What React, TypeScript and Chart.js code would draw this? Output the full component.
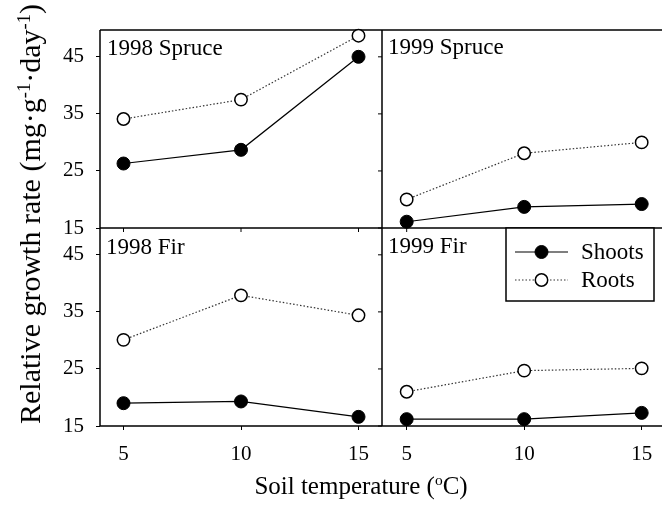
import React, { useEffect, useRef } from "react";
import { Chart, registerables } from "chart.js";

Chart.register(...registerables);

// ---- Data ----
const temperatures = [5, 10, 15];
const spruce1998Shoots = [26.3, 28.7, 45.0];
const spruce1998Roots = [34.1, 37.5, 48.7];
const spruce1999Shoots = [16.1, 18.7, 19.2];
const spruce1999Roots = [20.0, 28.1, 30.0];
const fir1998Shoots = [19.0, 19.3, 16.6];
const fir1998Roots = [30.1, 37.9, 34.4];
const fir1999Shoots = [16.2, 16.2, 17.3];
const fir1999Roots = [21.0, 24.7, 25.1];
const yTicks = [15, 25, 35, 45];
const xTicks = [5, 10, 15];
const panelTitles = ["1998 Spruce", "1999 Spruce", "1998 Fir", "1999 Fir"];
const seriesNames = ["Shoots", "Roots"];

const FONT = '"Liberation Serif", "Times New Roman", serif';

const panels = [
  { x: "xL", y: "yTop", shoots: spruce1998Shoots, roots: spruce1998Roots },
  { x: "xR", y: "yTop", shoots: spruce1999Shoots, roots: spruce1999Roots },
  { x: "xL", y: "yBot", shoots: fir1998Shoots, roots: fir1998Roots },
  { x: "xR", y: "yBot", shoots: fir1999Shoots, roots: fir1999Roots },
];

const shootStyle = {
  borderColor: "#000",
  borderWidth: 1.2,
  pointRadius: 6.5,
  pointBackgroundColor: "#000",
  pointBorderColor: "#000",
  pointBorderWidth: 1,
};
const rootStyle = {
  borderColor: "#333",
  borderWidth: 1.2,
  borderDash: [1.5, 2],
  pointRadius: 6.2,
  pointBackgroundColor: "#fff",
  pointBorderColor: "#000",
  pointBorderWidth: 1.5,
};

function buildDatasets() {
  const ds: any[] = [];
  panels.forEach((p, i) => {
    ds.push({
      label: seriesNames[0] + " " + panelTitles[i],
      data: temperatures.map((t, k) => ({ x: t, y: p.shoots[k] })),
      xAxisID: p.x,
      yAxisID: p.y,
      clip: false,
      ...shootStyle,
    });
    ds.push({
      label: seriesNames[1] + " " + panelTitles[i],
      data: temperatures.map((t, k) => ({ x: t, y: p.roots[k] })),
      xAxisID: p.x,
      yAxisID: p.y,
      clip: false,
      ...rootStyle,
    });
  });
  return ds;
}

const gridOpts = {
  display: true,
  drawOnChartArea: false,
  drawTicks: true,
  tickLength: 4,
  color: "#000",
  lineWidth: 1,
};

function yScale() {
  return {
    type: "linear",
    position: "left",
    stack: "rows",
    stackWeight: 1,
    min: 15,
    max: 49.7,
    afterBuildTicks: (s: any) => {
      s.ticks = yTicks.map((v) => ({ value: v }));
    },
    afterFit: (s: any) => {
      s.width = 100;
    },
    grid: gridOpts,
    border: { display: false },
    ticks: { color: "#000", font: { family: FONT, size: 21 }, padding: 12 },
  };
}

function xScale(min: number, max: number) {
  return {
    type: "linear",
    position: "bottom",
    stack: "cols",
    stackWeight: 1,
    min,
    max,
    afterBuildTicks: (s: any) => {
      s.ticks = xTicks.map((v) => ({ value: v }));
    },
    afterFit: (s: any) => {
      s.height = 79;
    },
    grid: gridOpts,
    border: { display: false },
    ticks: { color: "#000", font: { family: FONT, size: 21 }, padding: 12, maxRotation: 0 },
  };
}

const framePlugin = {
  id: "frame",
  beforeDatasetsDraw(chart: any) {
    const { ctx } = chart;
    const xL = chart.scales.xL;
    const xR = chart.scales.xR;
    const yT = chart.scales.yTop;
    const yB = chart.scales.yBot;
    const left = xL.left;
    const mid = xR.left;
    const right = xR.right;
    const top = yT.top;
    const midY = yB.top;
    const bottom = yB.bottom;
    ctx.save();
    ctx.strokeStyle = "#000";
    ctx.lineWidth = 1.5;
    ctx.beginPath();
    ctx.moveTo(left, top);
    ctx.lineTo(right, top);
    ctx.moveTo(left, midY);
    ctx.lineTo(right, midY);
    ctx.moveTo(left, bottom);
    ctx.lineTo(right, bottom);
    ctx.moveTo(left, top);
    ctx.lineTo(left, bottom);
    ctx.moveTo(mid, top);
    ctx.lineTo(mid, bottom);
    ctx.stroke();

    ctx.lineWidth = 1;
    ctx.beginPath();
    xTicks.forEach((v) => {
      const a = xL.getPixelForValue(v);
      const b = xR.getPixelForValue(v);
      ctx.moveTo(a, midY);
      ctx.lineTo(a, midY + 4);
      ctx.moveTo(b, midY);
      ctx.lineTo(b, midY + 4);
    });
    yTicks.forEach((v) => {
      const a = yT.getPixelForValue(v);
      const b = yB.getPixelForValue(v);
      ctx.moveTo(mid, a);
      ctx.lineTo(mid - 4, a);
      ctx.moveTo(mid, b);
      ctx.lineTo(mid - 4, b);
    });
    ctx.stroke();

    ctx.fillStyle = "#000";
    ctx.font = "23px " + FONT;
    ctx.textBaseline = "alphabetic";
    ctx.textAlign = "left";
    ctx.fillText(panelTitles[0], left + 7, top + 25);
    ctx.fillText(panelTitles[1], mid + 6, top + 24);
    ctx.fillText(panelTitles[2], left + 6, midY + 26);
    ctx.fillText(panelTitles[3], mid + 6, midY + 25);
    ctx.restore();
  },
  afterDatasetsDraw(chart: any) {
    const { ctx } = chart;
    const xR = chart.scales.xR;
    const yB = chart.scales.yBot;
    const bx = xR.left + 124;
    const by = yB.top;
    const bw = 148;
    const bh = 73;
    ctx.save();
    ctx.fillStyle = "#fff";
    ctx.fillRect(bx, by, bw, bh);
    ctx.strokeStyle = "#000";
    ctx.lineWidth = 1.5;
    ctx.strokeRect(bx, by, bw, bh);

    const rows = [
      { name: seriesNames[0], st: shootStyle, y: by + 24 },
      { name: seriesNames[1], st: rootStyle, y: by + 52 },
    ];
    rows.forEach((r: any) => {
      ctx.save();
      ctx.strokeStyle = r.st.borderColor;
      ctx.lineWidth = r.st.borderWidth;
      ctx.setLineDash(r.st.borderDash || []);
      ctx.beginPath();
      ctx.moveTo(bx + 9, r.y);
      ctx.lineTo(bx + 62, r.y);
      ctx.stroke();
      ctx.restore();
      ctx.beginPath();
      ctx.arc(bx + 35.5, r.y, r.st.pointRadius, 0, Math.PI * 2);
      ctx.fillStyle = r.st.pointBackgroundColor;
      ctx.fill();
      ctx.lineWidth = r.st.pointBorderWidth;
      ctx.strokeStyle = r.st.pointBorderColor;
      ctx.stroke();
      ctx.fillStyle = "#000";
      ctx.font = "23px " + FONT;
      ctx.textBaseline = "middle";
      ctx.textAlign = "left";
      ctx.fillText(r.name, bx + 75, r.y + 1);
    });
    ctx.restore();
  },
  afterDraw(chart: any) {
    // keep the right-hand edge of the plot open, as in the original figure
    const { ctx } = chart;
    const yT = chart.scales.yTop;
    const yB = chart.scales.yBot;
    ctx.save();
    ctx.fillStyle = "#fff";
    ctx.fillRect(656, yT.top + 1, 20, yT.bottom - yT.top - 2);
    ctx.fillRect(656, yB.top + 1, 20, yB.bottom - yB.top - 2);
    ctx.restore();
  },
};

const supStyle: React.CSSProperties = {
  fontSize: "0.62em",
  verticalAlign: "0.55em",
  lineHeight: 0,
};

export default function App() {
  const ref = useRef<HTMLCanvasElement>(null);
  useEffect(() => {
    const chart = new Chart(ref.current as HTMLCanvasElement, {
      type: "line",
      data: { datasets: buildDatasets() },
      options: {
        animation: false,
        responsive: false,
        devicePixelRatio: 1,
        layout: { padding: { top: 30, right: 36, left: 0, bottom: 0 } },
        plugins: { legend: { display: false }, tooltip: { enabled: false } },
        scales: {
          // left-side stacks are placed in reverse order, so the bottom row comes first
          yBot: yScale(),
          yTop: yScale(),
          xL: xScale(4, 16),
          xR: xScale(3.95, 15.95),
        } as any,
      },
      plugins: [framePlugin],
    } as any);
    return () => chart.destroy();
  }, []);

  return (
    <div
      style={{
        position: "fixed",
        left: 0,
        top: 0,
        width: 662,
        height: 505,
        overflow: "hidden",
        background: "#fff",
        fontFamily: FONT,
        color: "#000",
      }}
    >
      <canvas
        ref={ref}
        width={700}
        height={505}
        style={{ position: "absolute", left: 0, top: 0, width: 700, height: 505 }}
      />
      <div
        style={{
          position: "absolute",
          left: 30,
          top: 214,
          transform: "translate(-50%, -50%) rotate(-90deg)",
          fontSize: 30,
          lineHeight: 1,
          whiteSpace: "nowrap",
        }}
      >
        Relative growth rate (mg·g<sup style={supStyle}>-1</sup>·day<sup style={supStyle}>-1</sup>)
      </div>
      <div
        style={{
          position: "absolute",
          left: 361,
          top: 485,
          transform: "translate(-50%, -50%)",
          fontSize: 25,
          lineHeight: 1,
          whiteSpace: "nowrap",
        }}
      >
        Soil temperature (<sup style={supStyle}>o</sup>C)
      </div>
    </div>
  );
}
